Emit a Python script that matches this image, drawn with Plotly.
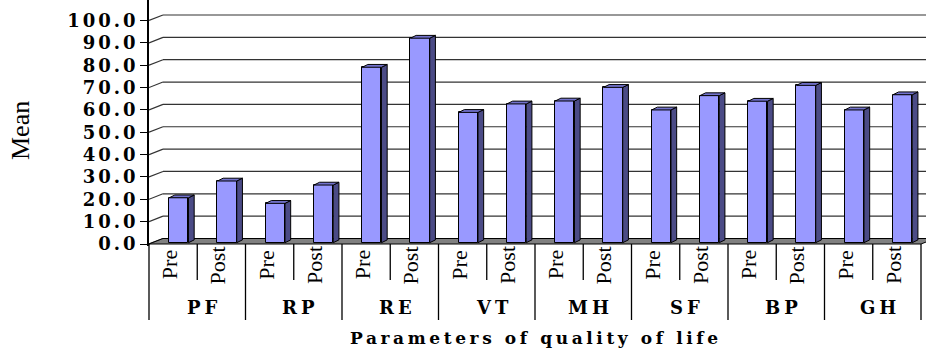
import plotly.graph_objects as go

# ---------------- data ----------------
groups = ["PF", "RP", "RE", "VT", "MH", "SF", "BP", "GH"]
phases = ["Pre", "Post"]
means = [20.1, 27.6, 17.6, 25.8, 78.5, 91.5, 58.3, 62.1,
         63.4, 69.5, 59.4, 65.8, 63.3, 70.4, 59.4, 66.2]
y_ticks = [0, 10, 20, 30, 40, 50, 60, 70, 80, 90, 100]
y_ticklabels = ["0.0", "10.0", "20.0", "30.0", "40.0", "50.0",
                "60.0", "70.0", "80.0", "90.0", "100.0"]
x_title = "Parameters of quality of life"
y_title = "Mean"

# ---------------- geometry / style ----------------
W, H = 926, 349
ML, MR, MT, MB = 149, 0, 0, 103
PW, PH = W - ML - MR, H - MT - MB
PX_X = 48.25          # px per category slot
PX_Y = 2.235          # px per y unit
XMIN = -0.5
XMAX = XMIN + PW / PX_X
YMIN = -2 / PX_Y
YMAX = YMIN + PH / PX_Y

DXF, DYF = 14 / PX_X, 5.5 / PX_Y      # wall depth
SHIFT = 5.7 / PX_X                    # bar shift into depth
BW = 19.3 / PX_X                      # bar width
BASE = 1.3 / PX_Y
DXB, DYB = 5.7 / PX_X, 2.8 / PX_Y     # bar depth

FRONT, SIDE, TOP = "#9999FF", "#4B4B86", "#7272CC"

n = len(means)
xs = list(range(n))
inner = [phases[i % 2] for i in xs]


def px2paper_x(px):
    return (px - ML) / PW


def px2paper_y(py):
    return (H - MB - py) / PH


def data2paper_x(x):
    return (x - XMIN) / (XMAX - XMIN)


def spaced(t, sp):
    return f'<span style="letter-spacing:{sp}px">{t}</span>'


fig = go.Figure()

# front faces
fig.add_trace(go.Bar(
    x=[x + SHIFT for x in xs], y=means, base=[BASE] * n, width=BW,
    marker=dict(color=FRONT, line=dict(color="black", width=1)),
    hoverinfo="skip", showlegend=False))

# side faces and top faces
sx, sy, tx, ty = [], [], [], []
for x, v in zip(xs, means):
    c = x + SHIFT
    r = c + BW / 2
    l = c - BW / 2
    top = v + BASE
    sx += [r, r, r + DXB, r + DXB, r, None]
    sy += [BASE, top, top + DYB, BASE + DYB, BASE, None]
    tx += [l, r, r + DXB, l + DXB, l, None]
    ty += [top, top, top + DYB, top + DYB, top, None]
fig.add_trace(go.Scatter(x=sx, y=sy, mode="lines", fill="toself", fillcolor=SIDE,
                         line=dict(color="black", width=1), hoverinfo="skip",
                         showlegend=False))
fig.add_trace(go.Scatter(x=tx, y=ty, mode="lines", fill="toself", fillcolor=TOP,
                         line=dict(color="black", width=1), hoverinfo="skip",
                         showlegend=False))

shapes = []
# back wall gridlines + side-wall diagonals
for v in y_ticks:
    shapes.append(dict(type="line", xref="x", yref="y", layer="below",
                       x0=XMIN, y0=v, x1=XMIN + DXF, y1=v + DYF,
                       line=dict(color="#333333", width=1.2)))
    shapes.append(dict(type="line", xref="x", yref="y", layer="below",
                       x0=XMIN + DXF, y0=v + DYF, x1=XMAX + 1, y1=v + DYF,
                       line=dict(color="#333333", width=1.2)))
# floor
xend = XMIN + n
shapes.append(dict(type="path", xref="x", yref="y", layer="below",
                   path=f"M {XMIN},0 L {xend},0 L {xend + DXF},{DYF} L {XMIN + DXF},{DYF} Z",
                   fillcolor="#808080", line=dict(color="black", width=1)))

# category table dividers
y_axis_px = 244
for b in range(n + 1):
    xb = XMIN + b
    y_end = 320 if b % 2 == 0 else 280
    shapes.append(dict(type="line", xref="paper", yref="paper",
                       x0=data2paper_x(xb), x1=data2paper_x(xb),
                       y0=px2paper_y(y_axis_px), y1=px2paper_y(y_end),
                       line=dict(color="black", width=1.3)))

annotations = []
# inner (Pre / Post) labels, rotated, centred in their cells
for x, lab in zip(xs, inner):
    annotations.append(dict(
        x=data2paper_x(x) - 4 / PW, y=px2paper_y(265), xref="paper", yref="paper",
        text=lab, textangle=-90, showarrow=False,
        xanchor="center", yanchor="middle",
        font=dict(family="Liberation Serif", size=22, color="black")))
# outer group labels
GSP = 4
for g, name in enumerate(groups):
    annotations.append(dict(
        x=data2paper_x(2 * g + 0.5) + (5 + GSP / 2) / PW, y=px2paper_y(307),
        xref="paper", yref="paper",
        text=spaced(name, GSP), showarrow=False,
        xanchor="center", yanchor="middle",
        font=dict(family="DejaVu Serif", size=18, color="black", weight="bold")))
TSP = 3.6
annotations.append(dict(
    x=px2paper_x(534.5 + TSP / 2), y=px2paper_y(338), xref="paper", yref="paper",
    text=spaced(x_title, TSP),
    showarrow=False, xanchor="center", yanchor="middle",
    font=dict(family="DejaVu Serif", size=17, color="black", weight="bold")))
annotations.append(dict(
    x=px2paper_x(20), y=px2paper_y(131), xref="paper", yref="paper",
    text=y_title, textangle=-90, showarrow=False, xanchor="center", yanchor="middle",
    font=dict(family="Liberation Serif", size=26, color="black")))

fig.update_layout(
    width=W, height=H,
    margin=dict(l=ML, r=MR, t=MT, b=MB, pad=0),
    plot_bgcolor="white", paper_bgcolor="white",
    shapes=shapes, annotations=annotations,
    bargap=0, showlegend=False,
    xaxis=dict(range=[XMIN, XMAX], showticklabels=False, ticks="",
               showgrid=False, zeroline=False, showline=False, fixedrange=True),
    yaxis=dict(range=[YMIN, YMAX], tickmode="array", tickvals=y_ticks,
               ticktext=[spaced(t, 3) for t in y_ticklabels],
               ticks="outside", ticklen=7, tickcolor="black", tickwidth=1.2,
               ticklabelstandoff=-2,
               showline=True, linecolor="black", linewidth=1.5,
               showgrid=False, zeroline=False, fixedrange=True,
               tickfont=dict(family="DejaVu Serif", size=18, color="black",
                             weight="bold")),
)

fig.write_html("out.html")
